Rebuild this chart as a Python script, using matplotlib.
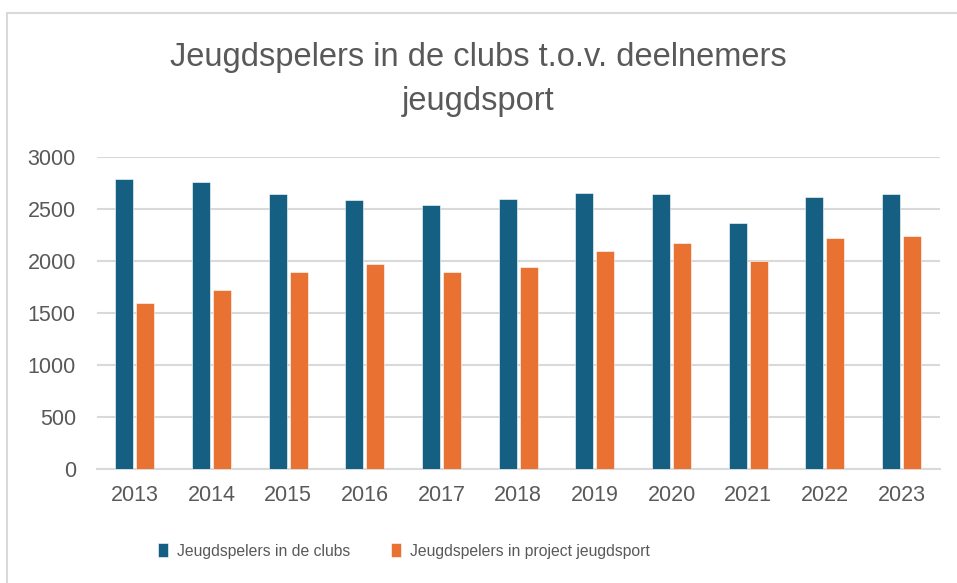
import numpy as np
import matplotlib.pyplot as plt
from matplotlib.patches import Rectangle

# data
years = ['2013', '2014', '2015', '2016', '2017', '2018',
         '2019', '2020', '2021', '2022', '2023']
clubs = [2790, 2760, 2650, 2590, 2540, 2600, 2660, 2650, 2365, 2620, 2650]
project = [1600, 1720, 1900, 1970, 1900, 1945, 2095, 2180, 2000, 2220, 2245]

label_clubs = 'Jeugdspelers in de clubs'
label_project = 'Jeugdspelers in project jeugdsport'
title = 'Jeugdspelers in de clubs t.o.v. deelnemers\njeugdsport'

blue = '#156082'
orange = '#E97132'
text_grey = '#595959'
grid_grey = '#D9D9D9'
sans = ['Liberation Sans', 'DejaVu Sans']

fig = plt.figure(figsize=(9.57, 5.83), dpi=100)
ax = fig.add_axes([0.101, 0.196, 0.881, 0.534])

# light frame of the chart area
fig.patches.append(Rectangle((7 / 957, -0.1), 1.2, (583 - 13) / 583 + 0.1,
                             transform=fig.transFigure, fill=False,
                             edgecolor='#D9D9D9', linewidth=1.5))

x = np.arange(len(years))
w = 0.235
ax.bar(x - 0.137, clubs, w, color=blue, edgecolor='white', linewidth=0.4,
       label=label_clubs, zorder=3)
ax.bar(x + 0.137, project, w, color=orange, edgecolor='white', linewidth=0.4,
       label=label_project, zorder=3)

ax.set_xlim(-0.5, len(years) - 0.5)
ax.set_ylim(0, 3000)
ax.set_yticks(range(0, 3001, 500))
ax.set_xticks(x)
ax.set_xticklabels(years)
ax.yaxis.grid(True, color=grid_grey, linewidth=1.5, zorder=0)
ax.set_axisbelow(True)

for s in ['top', 'right', 'left']:
    ax.spines[s].set_visible(False)
ax.spines['bottom'].set_color(grid_grey)
ax.spines['bottom'].set_linewidth(1.5)
ax.tick_params(axis='both', length=0, colors=text_grey, labelsize=15.5)
ax.tick_params(axis='y', pad=15)
ax.tick_params(axis='x', pad=12)
for lab in ax.get_xticklabels() + ax.get_yticklabels():
    lab.set_family(sans)

fig.text(0.5, 0.864, title, ha='center', va='center', fontsize=23.5,
         color=text_grey, family=sans, linespacing=1.55)

leg = fig.legend(loc='center', bbox_to_anchor=(0.422, 0.055), ncol=2,
                 frameon=False, prop={'family': sans, 'size': 11.3},
                 handlelength=0.65, handleheight=0.95, handletextpad=0.55,
                 columnspacing=2.6, labelcolor=text_grey)

fig.savefig('out.png', dpi=100)
